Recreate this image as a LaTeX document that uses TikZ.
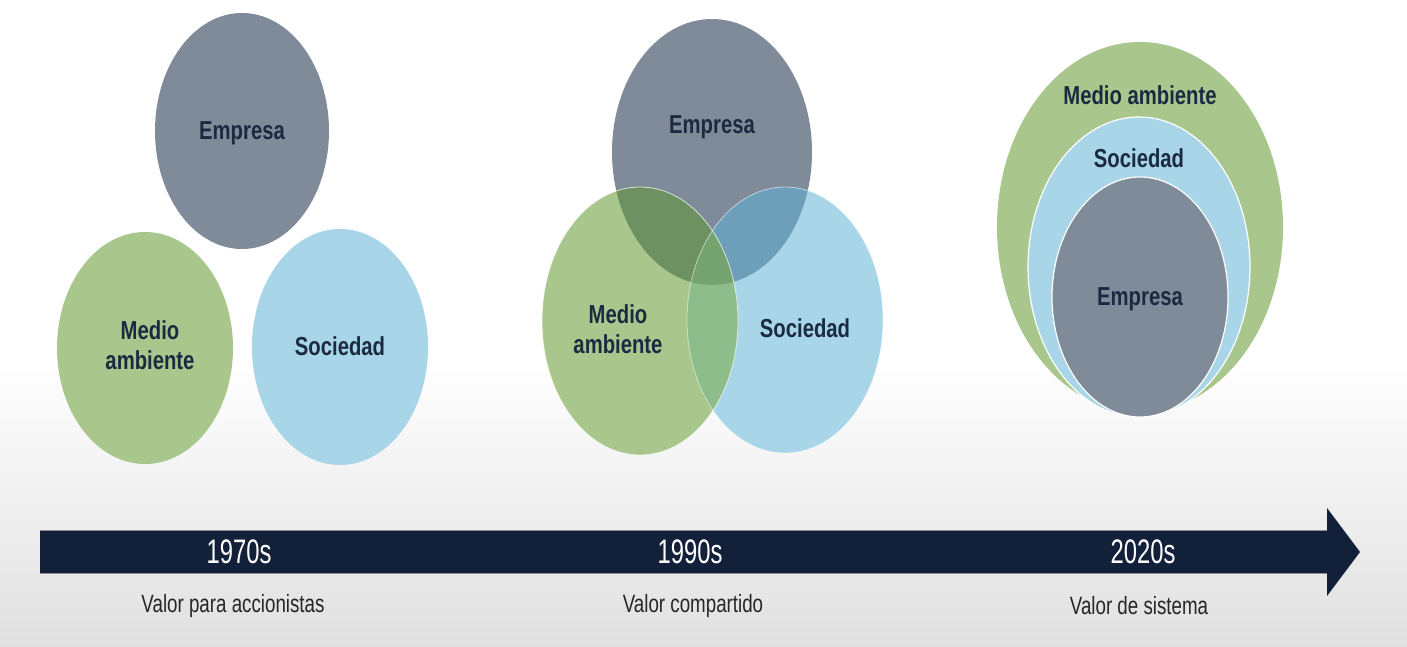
\documentclass[tikz,border=0pt]{standalone}
\usepackage{fontspec}
\setmainfont{Liberation Sans}
\newfontfamily\lblfont[FakeStretch=0.78]{Liberation Sans}
\newfontfamily\yrfont[FakeStretch=0.70]{Liberation Sans}
\newfontfamily\subfont[FakeStretch=0.75]{Liberation Sans}
\definecolor{egray}{HTML}{808B9A}
\definecolor{mgreen}{HTML}{A9C78C}
\definecolor{sblue}{HTML}{A8D5E8}
\definecolor{emcol}{HTML}{6E9161}
\definecolor{escol}{HTML}{6D9FBB}
\definecolor{mscol}{HTML}{8DBD8A}
\definecolor{emscol}{HTML}{75A36F}
\definecolor{navy}{HTML}{13203A}
\definecolor{txt}{HTML}{1B2A41}
\tikzset{
  lbl/.style={font=\lblfont\bfseries\fontsize{26}{30}\selectfont, text=txt, align=center},
  yr/.style={font=\yrfont\fontsize{34}{36}\selectfont, text=white},
  sub/.style={font=\subfont\fontsize{25}{28}\selectfont, text=black!85},
  rim/.style={draw=white, line width=1.2pt}
}
\begin{document}
\begin{tikzpicture}[x=1pt,y=-1pt]
\useasboundingbox (0,0) rectangle (1407,646);
\fill[white] (0,0) rectangle (1407,646);
\shade[top color=white, bottom color=black!12] (0,360) rectangle (1407,646);
% ---------- panel 1 ----------
\fill[egray] (242,131) ellipse [x radius=87pt, y radius=118pt];
\fill[mgreen] (145,348) ellipse [x radius=88pt, y radius=116pt];
\fill[sblue] (340,347) ellipse [x radius=88pt, y radius=118pt];
\node[lbl] (e1) at (242,133) {Empresa};
\node[lbl] (m1) at (150,345) {Medio\\ambiente};
\node[lbl] (s1) at (340,346) {Sociedad};
% ---------- panel 2 ----------
\def\EE{(712,152) ellipse [x radius=100pt, y radius=133pt]}
\def\MM{(640,321) ellipse [x radius=98pt, y radius=134pt]}
\def\SS{(785,320) ellipse [x radius=98pt, y radius=133pt]}
\fill[egray] \EE;
\fill[sblue] \SS;
\fill[mgreen] \MM;
\begin{scope}\clip \EE; \fill[emcol] \MM; \end{scope}
\begin{scope}\clip \EE; \fill[escol] \SS; \end{scope}
\begin{scope}\clip \MM; \fill[mscol] \SS; \end{scope}
\begin{scope}\clip \EE; \clip \MM; \fill[emscol] \SS; \end{scope}
\draw[white, line width=0.8pt, opacity=0.7] \MM;
\draw[white, line width=0.8pt, opacity=0.5] \SS;
\node[lbl] (e2) at (712,127) {Empresa};
\node[lbl] (m2) at (618,329) {Medio\\ambiente};
\node[lbl] (s2) at (805,328) {Sociedad};
% ---------- panel 3 ----------
\fill[mgreen] (1140,227) ellipse [x radius=143pt, y radius=185pt];
\filldraw[sblue, rim] (1139,267) ellipse [x radius=111pt, y radius=150pt];
\filldraw[egray, rim] (1140,297) ellipse [x radius=88pt, y radius=120pt];
\node[lbl] (m3) at (1140,95) {Medio ambiente};
\node[lbl] (s3) at (1139,158) {Sociedad};
\node[lbl] (e3) at (1140,299) {Empresa};
% ---------- timeline ----------
\fill[navy] (40,530) -- (1327,530) -- (1327,508) -- (1360,552) -- (1327,596) -- (1327,573) -- (40,573) -- cycle;
\draw[black!45, line width=0.8pt] (40,530) -- (1327,530);
\draw[black!45, line width=0.8pt] (40,573) -- (1327,573);
\node[yr] (y1) at (239,552) {1970s};
\node[yr] (y2) at (690,552) {1990s};
\node[yr] (y3) at (1143,552) {2020s};
\node[sub] (t1) at (233,606) {Valor para accionistas};
\node[sub] (t2) at (693,606) {Valor compartido};
\node[sub] (t3) at (1139,606) {Valor de sistema};
\end{tikzpicture}
\end{document}
